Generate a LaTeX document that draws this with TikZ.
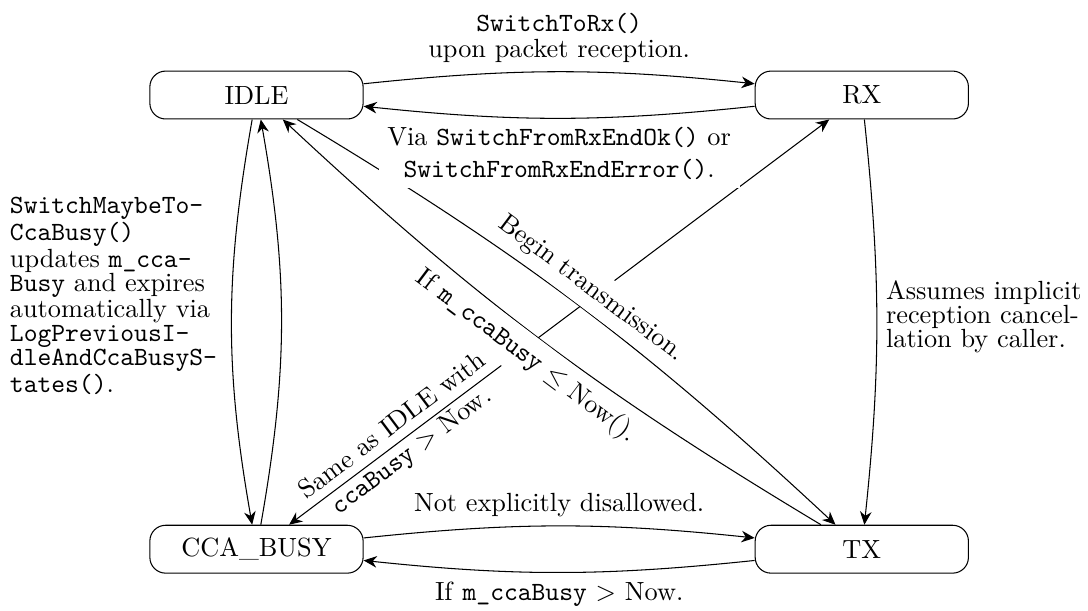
\documentclass[tikz,border=0pt]{standalone}
\usetikzlibrary{arrows.meta}
\begin{document}
\begin{tikzpicture}[>={Stealth[length=5pt, width=4.4pt, inset=1.6pt]},
    stav/.style={draw, rounded corners=6pt, minimum width=2.85cm, minimum height=0.64cm},
    popis/.style={fill=white, align=center},
    blok/.style={align=left, font=\fontsize{10pt}{9pt}\selectfont}]
    \useasboundingbox (-3.428,-6.883) rectangle (11.113,1.270);

    % Stavy
    \node[stav] (idle) at (0,0) {IDLE};
    \node[stav] (rx) at (8.09,0) {RX};
    \node[stav] (cca) at (0,-6.07) {CCA\_BUSY};
    \node[stav] (tx) at (8.09,-6.07) {TX};

    % CCA_BUSY <-> RX
    \draw[<->] (cca) -- node[sloped, pos=0.21, align=center] (lccarx) {Same as IDLE with\\\texttt{ccaBusy} $>$ Now.} (rx);

    % IDLE <-> TX
    \draw[->] (idle) to[bend left=6] node[popis, sloped, above] (lidletx) {Begin transmission.} (tx);
    \draw[->] (tx) to[bend left=6] node[popis, sloped, below] (ltxidle) {If \texttt{m\_ccaBusy} $\leq$ Now().} (idle);

    % IDLE <-> RX
    \draw[->] (idle) to[bend left=6] node[popis, above] (lidlerx) {\texttt{SwitchToRx()}\\[-2pt]upon packet reception.} (rx);
    \draw[->] (rx) to[bend left=6] node[popis, below] (lrxidle) {Via \texttt{SwitchFromRxEndOk()} or\\\texttt{SwitchFromRxEndError()}.} (idle);

    % IDLE <-> CCA_BUSY
    \draw[->] (idle) to[bend right=10] node[blok, left, xshift=-2pt, yshift=10pt] (lidlecca) {\texttt{SwitchMaybeTo-}\\\texttt{CcaBusy()}\\updates \texttt{m\_cca-}\\\texttt{Busy} and expires\\automatically via\\\texttt{LogPreviousI-}\\\texttt{dleAndCcaBusyS-}\\\texttt{tates()}.} (cca);
    \draw[->] (cca) to[bend right=10] (idle);

    % RX -> TX
    \draw[->] (rx) to[bend left=6] node[blok, right, yshift=2pt] (lrxtx) {Assumes implicit\\reception cancel-\\lation by caller.} (tx);

    % CCA_BUSY <-> TX
    \draw[->] (cca) to[bend left=6] node[popis, above] (lccatx) {Not explicitly disallowed.} (tx);
    \draw[->] (tx) to[bend left=6] node[popis, below] (ltxcca) {If \texttt{m\_ccaBusy} $>$ Now.} (cca);
\end{tikzpicture}
\end{document}
